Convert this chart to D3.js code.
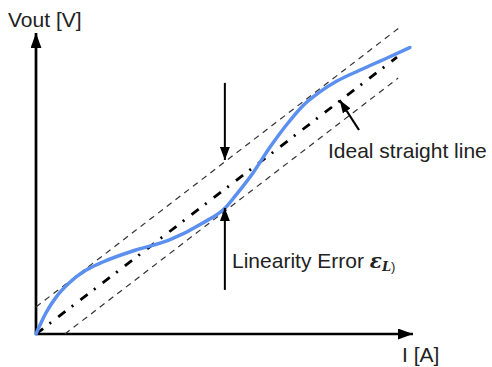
<!DOCTYPE html>
<html><head><meta charset="utf-8">
<script src="https://cdn.jsdelivr.net/npm/d3@7"></script>
<style>body{margin:0;background:#fff}svg{display:block}text{font-family:"Liberation Sans",Arial,sans-serif;fill:#222}</style>
</head><body>
<script>
// Data (arbitrary units, 0..10 on both axes)
const curveI    = [0,0.26,0.53,0.87,1.32,1.76,2.63,3.50,4.39,5.00,5.26,5.71,6.16,6.61,7.03,7.47,7.92,8.53,9.24,9.84];
const curveVout = [0,0.70,1.23,1.70,2.13,2.40,2.80,3.13,3.70,4.23,4.63,5.37,6.23,7.00,7.62,8.07,8.43,8.80,9.20,9.55];
const idealI = [0, 9.50], idealV = [0, 9.23];
const upperI = [0, 9.58], upperV = [0.9, 10.23];
const lowerI = [0.76, 9.53], lowerV = [0, 8.53];
const errX = 4.97;
const errUpper = [8.37, 5.80];
const errLower = [1.47, 4.20];
const idealArrowI = [8.50, 7.99], idealArrowV = [6.80, 7.80];
const axisMax = 10;
const labels = {y:"Vout [V]", x:"I [A]", ideal:"Ideal straight line", err:"Linearity Error "};

const W=492,H=367;
const x = d3.scaleLinear().domain([0,axisMax]).range([36,416]);
const y = d3.scaleLinear().domain([0,axisMax]).range([334,34]);
const svg = d3.select("body").append("svg").attr("width",W).attr("height",H);

const defs = svg.append("defs");
function marker(id,w,l){
  defs.append("marker").attr("id",id).attr("viewBox",`0 ${-w/2} ${l} ${w}`)
   .attr("refX",l).attr("refY",0).attr("markerWidth",l).attr("markerHeight",w)
   .attr("markerUnits","userSpaceOnUse").attr("orient","auto")
   .append("path").attr("d",`M0,${-w/2}L${l},0L0,${w/2}Z`).attr("fill","#000");
}
marker("axHead",11,15);
marker("errHead",10,13);
marker("txtHead",9,13);

const line = d3.line().x(d=>x(d[0])).y(d=>y(d[1]));
function pairs(a,b){return a.map((v,i)=>[v,b[i]]);}

// axes
svg.append("path").attr("d",line([[0,0],[0,axisMax*1.003]])).attr("stroke","#000").attr("stroke-width",2.7).attr("fill","none").attr("marker-end","url(#axHead)");
svg.append("path").attr("d",line([[0,0],[axisMax*0.992,0]])).attr("stroke","#000").attr("stroke-width",2.7).attr("fill","none").attr("marker-end","url(#axHead)");

// band lines
svg.append("path").attr("d",line(pairs(upperI,upperV))).attr("stroke","#333").attr("stroke-width",1.2).attr("stroke-dasharray","6,5").attr("fill","none");
svg.append("path").attr("d",line(pairs(lowerI,lowerV))).attr("stroke","#333").attr("stroke-width",1.2).attr("stroke-dasharray","6,5").attr("fill","none");
// ideal line
svg.append("path").attr("d",line(pairs(idealI,idealV))).attr("stroke","#000").attr("stroke-width",2.8).attr("stroke-dasharray","9,8,2,9").attr("fill","none");

// curve
svg.append("path").attr("d",d3.line().x(d=>x(d[0])).y(d=>y(d[1])).curve(d3.curveMonotoneX)(pairs(curveI,curveVout)))
  .attr("stroke","#5b8ff0").attr("stroke-width",3.5).attr("fill","none").attr("stroke-linecap","round");

// error arrows
svg.append("path").attr("d",line([[errX,errUpper[0]],[errX,errUpper[1]]])).attr("stroke","#000").attr("stroke-width",2).attr("fill","none").attr("marker-end","url(#errHead)");
svg.append("path").attr("d",line([[errX,errLower[0]],[errX,errLower[1]]])).attr("stroke","#000").attr("stroke-width",2).attr("fill","none").attr("marker-end","url(#errHead)");
// ideal arrow
svg.append("path").attr("d",line(pairs(idealArrowI,idealArrowV))).attr("stroke","#000").attr("stroke-width",2.2).attr("fill","none").attr("marker-end","url(#txtHead)");

// labels
svg.append("text").attr("x",8).attr("y",27).attr("font-size",21).text(labels.y);
svg.append("text").attr("x",402).attr("y",362).attr("font-size",21).text(labels.x);
svg.append("text").attr("x",328).attr("y",158).attr("font-size",21).text(labels.ideal);
const t = svg.append("text").attr("x",232).attr("y",268).attr("font-size",21).text(labels.err);
t.append("tspan").attr("font-family","'DejaVu Serif',serif").attr("font-style","italic").attr("font-weight","bold").attr("font-size",20).text("ε");
t.append("tspan").attr("font-family","'DejaVu Serif',serif").attr("font-style","italic").attr("font-weight","bold").attr("font-size",13).attr("dy",3).text("L");
t.append("tspan").attr("font-size",13).text(")");
</script>
</body></html>
